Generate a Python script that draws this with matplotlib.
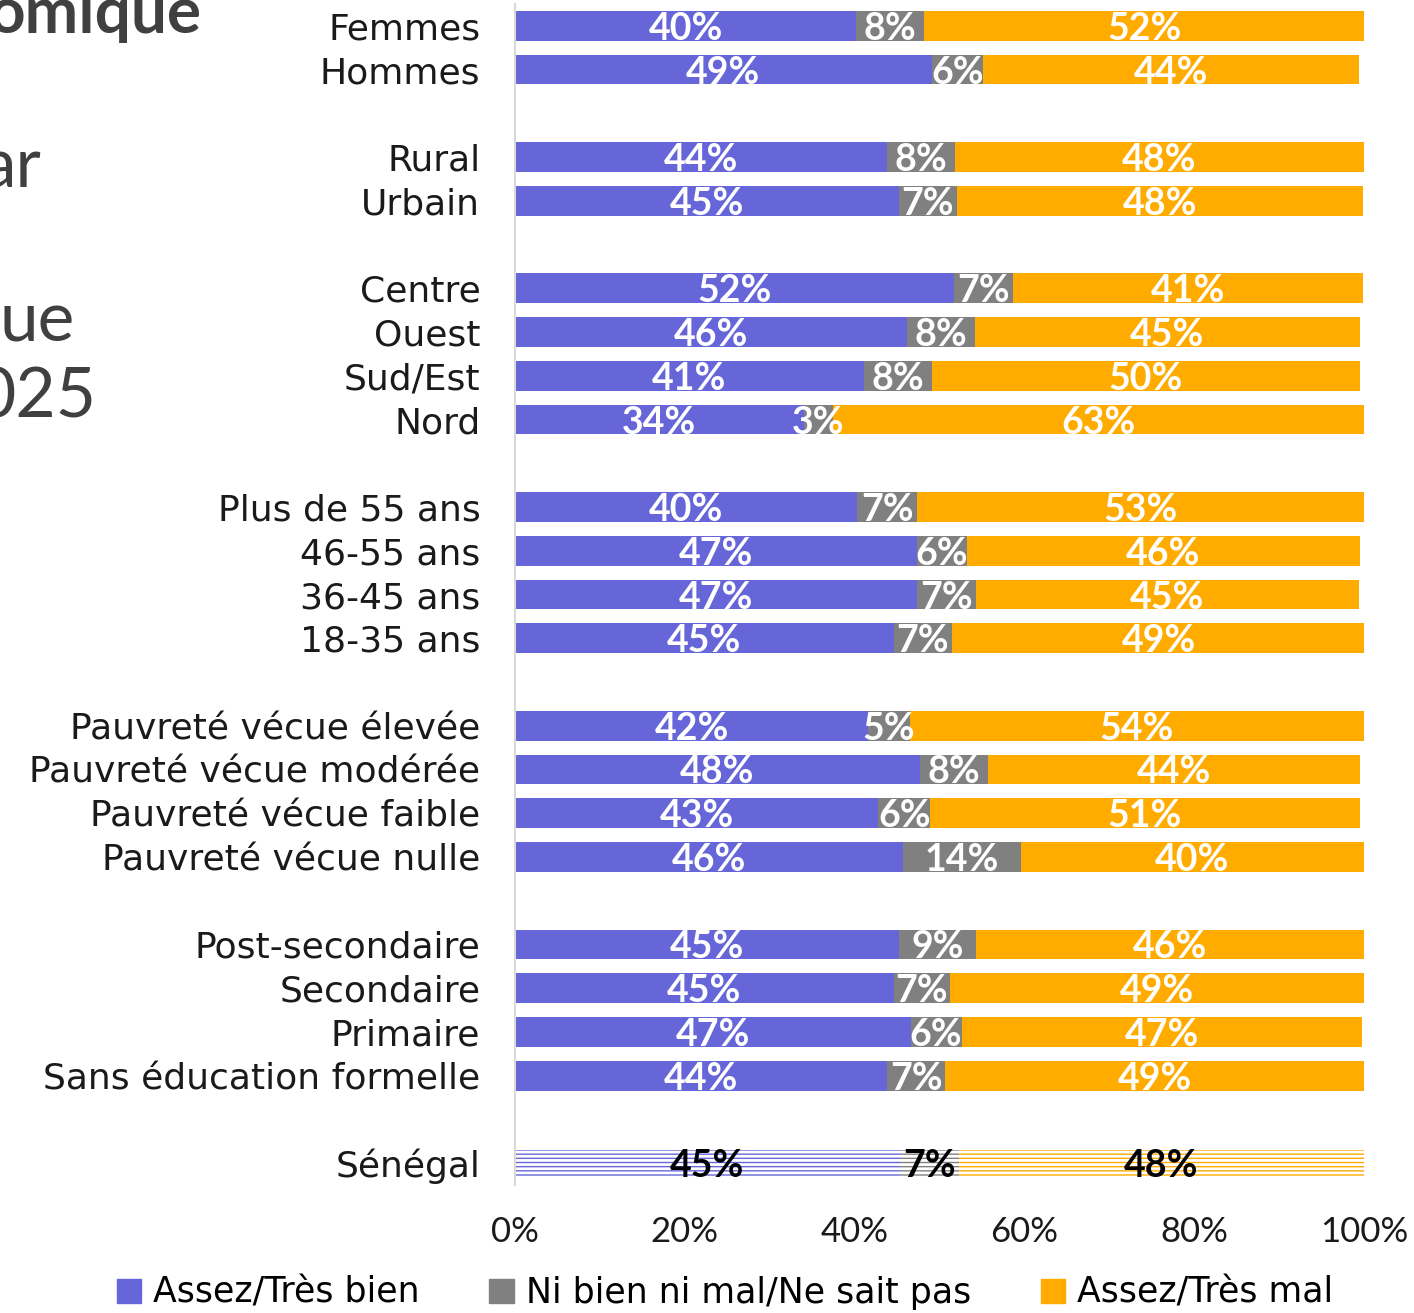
import numpy as np
import matplotlib.pyplot as plt
from matplotlib.patches import Patch

# data (percent)
categories = ["Femmes", "Hommes", "",
              "Rural", "Urbain", "",
              "Centre", "Ouest", "Sud/Est", "Nord", "",
              "Plus de 55 ans", "46-55 ans", "36-45 ans", "18-35 ans", "",
              "Pauvreté vécue élevée", "Pauvreté vécue modérée",
              "Pauvreté vécue faible", "Pauvreté vécue nulle", "",
              "Post-secondaire", "Secondaire", "Primaire",
              "Sans éducation formelle", "",
              "Sénégal"]
bien = [40.2, 49.1, None, 43.8, 45.2, None, 51.7, 46.2, 41.1, 34.0, None,
        40.3, 47.3, 47.4, 44.6, None, 41.6, 47.7, 42.8, 45.7, None,
        45.2, 44.6, 46.6, 43.8, None, 45.3]
neutre = [8.0, 6.0, None, 8.0, 6.9, None, 6.9, 8.0, 8.0, 3.4, None,
          7.1, 5.9, 6.9, 6.9, None, 4.9, 8.0, 6.1, 13.9, None,
          9.1, 6.6, 6.0, 6.9, None, 7.0]
mal = [51.8, 44.3, None, 48.2, 47.8, None, 41.3, 45.3, 50.4, 62.6, None,
       52.6, 46.3, 45.1, 48.6, None, 53.5, 43.8, 50.6, 40.4, None,
       45.7, 48.8, 47.2, 49.3, None, 47.7]
series_names = ["Assez/Très bien", "Ni bien ni mal/Ne sait pas", "Assez/Très mal"]
colors = ["#6666D9", "#808080", "#FFAB00"]
xticks = [0, 20, 40, 60, 80, 100]

plt.rcParams['font.family'] = ['Lato', 'DejaVu Sans']
plt.rcParams['hatch.linewidth'] = 2.0
wide = ['DejaVu Sans']

fig = plt.figure(figsize=(14.14, 13.13), dpi=100)
ax = fig.add_axes([515 / 1414, 1 - 1185 / 1313, 849 / 1414, (1185 - 4) / 1313])

y = np.arange(len(categories))
for i in range(len(categories)):
    if bien[i] is None:
        continue
    vals = [bien[i], neutre[i], mal[i]]
    left = 0
    last = categories[i] == "Sénégal"
    for v, c in zip(vals, colors):
        if last:
            ax.barh(y[i], v, left=left, height=0.6, color=c, edgecolor="white",
                    hatch="----", linewidth=0)
            tc = "black"
        else:
            ax.barh(y[i], v, left=left, height=0.68, color=c, linewidth=0)
            tc = "white"
        ax.text(left + v / 2, y[i], "%d%%" % round(v), ha="center",
                va="center_baseline", color=tc, fontsize=27, fontweight="bold")
        left += v

ax.set_ylim(len(categories) - 0.5, -0.5)
ax.set_xlim(0, 100)
ax.set_yticks(y)
ax.set_yticklabels(categories, fontsize=26, color="#1a1a1a", family=wide)
ax.set_xticks(xticks)
ax.set_xticklabels(["%d%%" % t for t in xticks], fontsize=25, color="#1a1a1a")
ax.tick_params(axis="y", length=0, pad=25)
ax.tick_params(axis="x", length=0, pad=22)
for s in ["top", "right", "bottom"]:
    ax.spines[s].set_visible(False)
ax.spines["left"].set_color("#D9D9D9")
ax.spines["left"].set_linewidth(1.5)

# cut-off title pieces on the left
fig.text(202 / 1414, 1 - 33 / 1313, "omique", ha="right", va="baseline",
         fontsize=46, fontweight="bold", color="#404040")
fig.text(42 / 1414, 1 - 187 / 1313, "ar", ha="right", va="baseline",
         fontsize=50, color="#404040")
fig.text(75 / 1414, 1 - 341 / 1313, "ue", ha="right", va="baseline",
         fontsize=50, color="#404040")
fig.text(97 / 1414, 1 - 418 / 1313, "025", ha="right", va="baseline",
         fontsize=50, color="#404040")

handles = [Patch(color=c) for c in colors]
fig.legend(handles, series_names, loc="center", ncol=3,
           bbox_to_anchor=(725 / 1414, 1 - 1293 / 1313), frameon=False,
           prop={'family': wide, 'size': 25}, handlelength=0.7, handleheight=0.7,
           handletextpad=0.35, columnspacing=2.0)

fig.savefig("out.png", dpi=100)
